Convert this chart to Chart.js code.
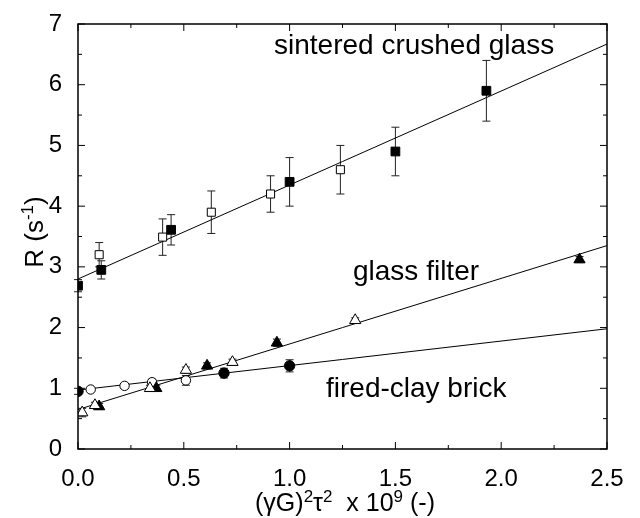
<!DOCTYPE html>
<html>
<head>
<meta charset="utf-8">
<script src="https://cdn.jsdelivr.net/npm/chart.js@4/dist/chart.umd.min.js"></script>
<style>
  html, body { margin: 0; padding: 0; background: #fff; }
  #c { display: block; }
</style>
</head>
<body>
<canvas id="c" width="640" height="518"></canvas>
<script>
/* ---- data -------------------------------------------------------- */
const xTicks = [0, 0.5, 1.0, 1.5, 2.0, 2.5];
const yTicks = [0, 1, 2, 3, 4, 5, 6, 7];

// sintered crushed glass
const sinFilledX   = [0, 0.11, 0.44, 1.0, 1.5, 1.93];
const sinFilledY   = [2.69, 2.95, 3.61, 4.4, 4.9, 5.9];
const sinFilledErr = [0.1, 0.15, 0.25, 0.4, 0.4, 0.5];
const sinOpenX     = [0.1, 0.4, 0.63, 0.91, 1.24];
const sinOpenY     = [3.2, 3.49, 3.9, 4.2, 4.6];
const sinOpenErr   = [0.2, 0.3, 0.35, 0.3, 0.4];

// glass filter
const glsOpenX     = [0.02, 0.08, 0.34, 0.51, 0.73, 1.31];
const glsOpenY     = [0.6, 0.72, 1.0, 1.3, 1.43, 2.12];
const glsOpenErr   = [0.07, 0.05, 0.05, 0.05, 0.05, 0.04];
const glsFilledX   = [0.1, 0.37, 0.61, 0.94, 2.37];
const glsFilledY   = [0.7, 1.0, 1.37, 1.75, 3.12];
const glsFilledErr = [0.05, 0.05, 0.05, 0.06, 0.05];

// fired-clay brick
const brkFilledX   = [0, 0.69, 1.0];
const brkFilledY   = [0.95, 1.25, 1.37];
const brkFilledErr = [0.05, 0.08, 0.1];
const brkOpenX     = [0.06, 0.22, 0.35, 0.51];
const brkOpenY     = [0.98, 1.04, 1.1, 1.13];
const brkOpenErr   = [0.03, 0.04, 0.05, 0.08];

// linear fits (end points at x = 0 and 2.5)
const fitX   = [0, 2.5];
const sinFit = [2.8, 6.67];
const glsFit = [0.65, 3.35];
const brkFit = [0.97, 1.98];

const curveLabels = ['sintered crushed glass', 'glass filter', 'fired-clay brick'];

/* ---- helpers ----------------------------------------------------- */
const FONT = '"Liberation Sans", Arial, sans-serif';
const pts  = (xs, ys) => xs.map((x, i) => ({ x, y: ys[i] }));

function markers(xs, ys, err, style, filled, r) {
  return {
    type: 'scatter',
    data: pts(xs, ys),
    err,
    pointStyle: style,
    pointRadius: r,
    pointBackgroundColor: filled ? '#000' : '#fff',
    pointBorderColor: '#000',
    pointBorderWidth: 1,
    showLine: false
  };
}
function fit(ys) {
  return {
    type: 'line',
    data: pts(fitX, ys),
    borderColor: '#000',
    borderWidth: 1,
    pointRadius: 0,
    fill: false
  };
}

/* ---- error bars (behind markers) --------------------------------- */
const errorBars = {
  id: 'errorBars',
  beforeDatasetsDraw(chart) {
    const { ctx, scales: { x, y } } = chart;
    ctx.save();
    ctx.strokeStyle = '#222';
    ctx.lineWidth = 1;
    chart.data.datasets.forEach(ds => {
      if (!ds.err) return;
      ds.data.forEach((p, i) => {
        const px = x.getPixelForValue(p.x);
        const y1 = y.getPixelForValue(p.y + ds.err[i]);
        const y2 = y.getPixelForValue(p.y - ds.err[i]);
        ctx.beginPath();
        ctx.moveTo(px, y1); ctx.lineTo(px, y2);
        ctx.moveTo(px - 4, y1); ctx.lineTo(px + 4, y1);
        ctx.moveTo(px - 4, y2); ctx.lineTo(px + 4, y2);
        ctx.stroke();
      });
    });
    ctx.restore();
  }
};

/* draw text pieces in a row, [text, isSuperscript] – centred on cx */
function richText(ctx, parts, cx, base, big, small, rise) {
  let w = 0;
  parts.forEach(([t, s]) => { ctx.font = s ? small : big; w += ctx.measureText(t).width; });
  let px = cx - w / 2;
  parts.forEach(([t, s]) => {
    ctx.font = s ? small : big;
    ctx.fillText(t, px, s ? base - rise : base);
    px += ctx.measureText(t).width;
  });
}

/* ---- frame, inner ticks, titles, curve labels -------------------- */
const decor = {
  id: 'decor',
  afterDraw(chart) {
    const { ctx, chartArea: a, scales: { x, y } } = chart;
    ctx.save();
    ctx.strokeStyle = '#000';
    ctx.lineWidth = 1.5;
    ctx.strokeRect(a.left, a.top, a.right - a.left, a.bottom - a.top);

    ctx.lineWidth = 1;
    ctx.beginPath();
    for (let v = 0; v <= 2.5001; v += 0.25) {
      const px = x.getPixelForValue(v);
      const len = Math.abs(v / 0.5 - Math.round(v / 0.5)) < 1e-6 ? 7 : 4;
      ctx.moveTo(px, a.bottom); ctx.lineTo(px, a.bottom - len);
      ctx.moveTo(px, a.top);    ctx.lineTo(px, a.top + len);
    }
    for (let v = 0; v <= 7.0001; v += 0.5) {
      const py = y.getPixelForValue(v);
      const len = Math.abs(v - Math.round(v)) < 1e-6 ? 7 : 4;
      ctx.moveTo(a.left, py);  ctx.lineTo(a.left + len, py);
      ctx.moveTo(a.right, py); ctx.lineTo(a.right - len, py);
    }
    ctx.stroke();

    ctx.fillStyle = '#000';
    ctx.textBaseline = 'alphabetic';
    ctx.textAlign = 'left';

    // curve labels
    ctx.font = `28px ${FONT}`;
    ctx.fillText(curveLabels[0], 274, 54);
    ctx.fillText(curveLabels[1], 353, 280);
    ctx.fillText(curveLabels[2], 326, 397);

    // x title: (γG)²τ²  x 10⁹ (-)
    richText(ctx,
      [['(γG)', 0], ['2', 1], ['τ', 0], ['2', 1], ['  x 10', 0], ['9', 1], [' (-)', 0]],
      345, 511, `25px ${FONT}`, `17px ${FONT}`, 9);

    // y title: R (s⁻¹)
    ctx.translate(43, 232);
    ctx.rotate(-Math.PI / 2);
    richText(ctx, [['R (s', 0], ['-1', 1], [')', 0]],
      0, 0, `26px ${FONT}`, `17px ${FONT}`, 10);
    ctx.restore();
  }
};

/* ---- chart ------------------------------------------------------- */
new Chart(document.getElementById('c'), {
  type: 'scatter',
  data: {
    datasets: [
      markers(sinFilledX, sinFilledY, sinFilledErr, 'rect', true, 6.2),
      markers(sinOpenX,   sinOpenY,   sinOpenErr,   'rect', false, 5.7),
      markers(glsOpenX,   glsOpenY,   glsOpenErr,   'triangle', false, 6.5),
      markers(glsFilledX, glsFilledY, glsFilledErr, 'triangle', true, 6.5),
      markers(brkFilledX, brkFilledY, brkFilledErr, 'circle', true, 5.2),
      markers(brkOpenX,   brkOpenY,   brkOpenErr,   'circle', false, 4.7),
      fit(sinFit),
      fit(glsFit),
      fit(brkFit)
    ]
  },
  options: {
    responsive: false,
    animation: false,
    layout: { padding: { left: 0, right: 33, top: 24, bottom: 0 } },
    plugins: { legend: { display: false }, tooltip: { enabled: false } },
    scales: {
      x: {
        type: 'linear', min: 0, max: 2.5,
        afterBuildTicks: s => { s.ticks = xTicks.map(v => ({ value: v })); },
        afterFit: s => { s.height = 69; },
        grid: { display: false }, border: { display: false },
        ticks: { color: '#000', padding: 8, font: { family: FONT, size: 24 },
                 maxRotation: 0, callback: v => v.toFixed(1) }
      },
      y: {
        type: 'linear', min: 0, max: 7,
        afterBuildTicks: s => { s.ticks = yTicks.map(v => ({ value: v })); },
        afterFit: s => { s.width = 78; },
        grid: { display: false }, border: { display: false },
        ticks: { color: '#000', padding: 8, font: { family: FONT, size: 24 } }
      }
    }
  },
  plugins: [errorBars, decor]
});
</script>
</body>
</html>
